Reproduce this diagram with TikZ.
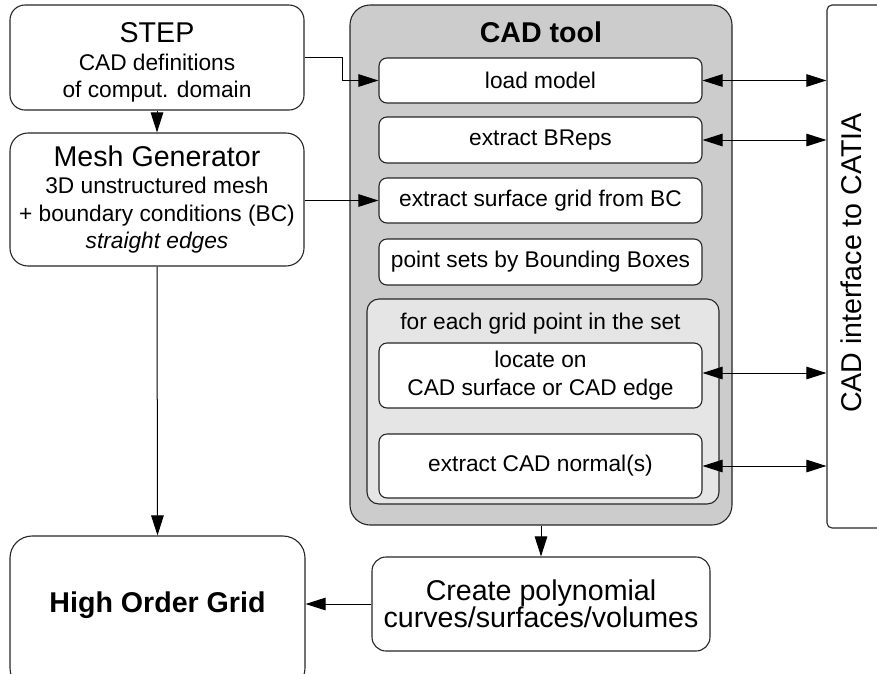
\documentclass[tikz,border=0pt]{standalone}
\usepackage{fontspec}
\setmainfont{Liberation Sans}
\usetikzlibrary{arrows.meta}

\newcommand\bodyfont{\fontsize{22.7}{27.5}\selectfont}
\newcommand\headfont{\fontsize{28.6}{31}\selectfont}

\tikzset{
  box/.style={draw=black!85, line width=1.1pt, fill=white, rectangle,
    inner sep=0pt, align=center, font=\bodyfont},
  sub/.style={box, rounded corners=8pt, minimum width=323pt},
  tip/.tip={Triangle[length=20pt,width=12.5pt]},
  conn/.style={draw=black, line width=1pt, -tip},
  biconn/.style={draw=black, line width=1pt, tip-tip},
}

\begin{document}
\begin{tikzpicture}[x=1pt,y=-1pt]
\useasboundingbox (0,0) rectangle (877,673);
\clip (0,0) rectangle (877,673);

% left column
\node[box, rounded corners=15pt, minimum width=294pt, minimum height=105pt]
  (step) at (157,57.5) {\rule{0pt}{30pt}{\headfont STEP}\\CAD definitions\\of comput. domain};
\node[box, rounded corners=18pt, minimum width=294pt, minimum height=133pt]
  (mesh) at (157,199.5) {{\headfont Mesh Generator}\\3D unstructured mesh\\
  + boundary conditions (BC)\\\textit{straight edges}};
\node[box, rounded corners=22pt, minimum width=295pt, minimum height=154pt]
  (hog) at (157.5,613) {};
\node[font=\headfont\bfseries, inner sep=0pt] (hogtext) at (157.5,605) {High Order Grid};

% CAD tool
\node[box, fill=gray!40, rounded corners=20pt, minimum width=382pt, minimum height=520pt]
  (cad) at (541,265) {};
\node[font=\headfont\bfseries, inner sep=0pt] (cadtitle) at (541,32) {CAD tool};
\node[sub, minimum height=45pt] (load) at (540.5,80.5) {load model};
\node[sub, minimum height=46pt] (breps) at (540.5,140) {extract BReps};
\node[sub, minimum height=45pt] (surf) at (540.5,200.5) {extract surface grid from BC};
\node[sub, minimum height=46pt] (bbox) at (540.5,262) {point sets by Bounding Boxes};
\node[box, fill=gray!20, rounded corners=12pt, minimum width=352pt, minimum height=205pt]
  (loop) at (543,401.5) {};
\node[font=\bodyfont, inner sep=0pt] (looptitle) at (540.5,324) {for each grid point in the set};
\node[sub, minimum height=65pt] (locate) at (540.5,375.5) {locate on\\CAD surface or CAD edge};
\node[sub, minimum height=64pt] (normal) at (540.5,466) {extract CAD normal(s)};

% polynomial step
\node[box, rounded corners=14pt, minimum width=338pt, minimum height=94pt]
  (create) at (541,604) {{\headfont Create polynomial}\\{\headfont curves/surfaces/volumes}};

% CATIA interface
\node[box, rounded corners=5pt, minimum width=100pt, minimum height=523pt]
  (catia) at (877,266.5) {};
\node[font=\headfont, inner sep=0pt, rotate=90] (catiatext) at (851,263) {CAD interface to CATIA};

% connectors
\draw[conn] (step.east) -- ++(38,0) |- (load.west);
\draw[conn] (step.south) -- (mesh.north);
\draw[conn] (mesh.east |- surf.west) -- (surf.west);
\draw[conn] (mesh.south) -- (hog.north);
\draw[conn] (cad.south) -- (create.north);
\draw[conn] (create.west) -- (create.west -| hog.east);
\draw[biconn] (load.east) -- (load.east -| catia.west);
\draw[biconn] (breps.east) -- (breps.east -| catia.west);
\draw[biconn] ([yshift=2.5pt]locate.east) -- ([yshift=2.5pt]locate.east -| catia.west);
\draw[biconn] (normal.east) -- (normal.east -| catia.west);
\end{tikzpicture}
\end{document}
